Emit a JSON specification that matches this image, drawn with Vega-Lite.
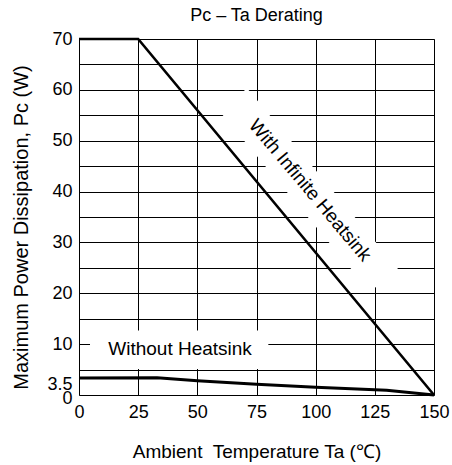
{
  "$schema": "https://vega.github.io/schema/vega-lite/v6.json",
  "width": 355,
  "height": 356,
  "autosize": {"type": "none"},
  "padding": {"left": 79, "top": 39, "right": 18, "bottom": 70},
  "background": "white",
  "config": {
    "font": "Liberation Sans",
    "view": {"stroke": "#7a7a7a", "strokeWidth": 1}
  },
  "title": {
    "text": "Pc – Ta Derating",
    "fontSize": 18,
    "fontWeight": "normal",
    "color": "black",
    "baseline": "alphabetic",
    "offset": 8,
    "dy": 19
  },
  "datasets": {
    "curves": [
      {"series": "infinite", "x": 0, "y": 70},
      {"series": "infinite", "x": 25, "y": 70},
      {"series": "infinite", "x": 150, "y": 0},
      {"series": "none", "x": 0, "y": 3.35},
      {"series": "none", "x": 33, "y": 3.4},
      {"series": "none", "x": 50, "y": 2.8},
      {"series": "none", "x": 75, "y": 2.1},
      {"series": "none", "x": 100, "y": 1.5},
      {"series": "none", "x": 130, "y": 0.95},
      {"series": "none", "x": 150, "y": 0}
    ],
    "band": [
      {"x": 65.2, "y": 58.07},
      {"x": 128.9, "y": 22.55}
    ],
    "box": [
      {"x": 4.65, "x2": 80, "y": 5.1, "y2": 12.7}
    ],
    "lbl1": [{"x": 42.7, "y": 7.88, "text": "Without Heatsink"}],
    "lbl2": [{"x": 97.6, "y": 40.27, "text": "With Infinite Heatsink"}]
  },
  "encoding": {
    "x": {
      "field": "x",
      "type": "quantitative",
      "scale": {"domain": [0, 150], "nice": false, "zero": false},
      "axis": {
        "values": [0, 25, 50, 75, 100, 125, 150],
        "title": "Ambient\u00a0 Temperature Ta (℃)",
        "titleFontSize": 19,
        "titleFontWeight": "normal",
        "titleColor": "black",
        "titleBaseline": "alphabetic",
        "titleY": 62,
        "labelFontSize": 18,
        "labelColor": "black",
        "labelPadding": 8,
        "ticks": false,
        "domain": false,
        "grid": true,
        "gridColor": "black",
        "gridOpacity": 1,
        "gridWidth": 1,
        "labelFlush": false,
        "labelOverlap": false
      }
    },
    "y": {
      "field": "y",
      "type": "quantitative",
      "scale": {"domain": [0, 70], "nice": false, "zero": false},
      "axis": {
        "values": [0, 3.5, 5, 10, 15, 20, 25, 30, 35, 40, 45, 50, 55, 60, 65, 70],
        "format": "~g",
        "labelExpr": "(datum.value % 10 == 0 || datum.value == 3.5) ? datum.label : ''",
        "title": "Maximum Power Dissipation, Pc (W)",
        "titleFontSize": 20,
        "titleFontWeight": "normal",
        "titleColor": "black",
        "titleBaseline": "alphabetic",
        "titleAlign": "center",
        "titleAngle": -90,
        "titleX": -52,
        "titleY": 188,
        "labelFontSize": 18,
        "labelColor": "black",
        "labelPadding": 7,
        "labelOffset": {"condition": [{"test": "datum.value == 3.5", "value": 7}, {"test": "datum.value == 0", "value": 3}], "value": 0},
        "ticks": false,
        "domain": false,
        "grid": true,
        "gridColor": "black",
        "gridWidth": 1,
        "gridOpacity": {"condition": {"test": "datum.value == 3.5", "value": 0}, "value": 1},
        "labelFlush": false,
        "labelOverlap": false
      }
    }
  },
  "layer": [
    {
      "data": {"name": "box"},
      "mark": {"type": "rect", "fill": "white", "stroke": null},
      "encoding": {
        "x2": {"field": "x2"},
        "y2": {"field": "y2"}
      }
    },
    {
      "data": {"name": "band"},
      "mark": {"type": "line", "color": "white", "strokeWidth": 36, "strokeCap": "butt"},
      "encoding": {}
    },
    {
      "data": {"name": "curves"},
      "transform": [{"filter": "datum.series == 'infinite'"}],
      "mark": {"type": "line", "color": "black", "strokeWidth": 2.6, "strokeJoin": "miter"},
      "encoding": {}
    },
    {
      "data": {"name": "curves"},
      "transform": [{"filter": "datum.series == 'none'"}],
      "mark": {"type": "line", "color": "black", "strokeWidth": 3},
      "encoding": {}
    },
    {
      "data": {"name": "lbl1"},
      "mark": {"type": "text", "fontSize": 19, "align": "center", "baseline": "alphabetic", "color": "black"},
      "encoding": {"text": {"field": "text"}}
    },
    {
      "data": {"name": "lbl2"},
      "mark": {"type": "text", "fontSize": 19, "align": "center", "baseline": "middle", "angle": 50, "color": "black"},
      "encoding": {"text": {"field": "text"}}
    }
  ]
}
